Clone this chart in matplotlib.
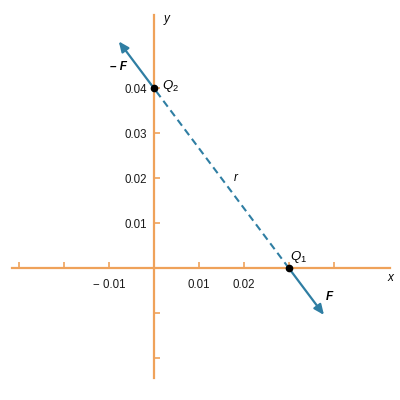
import matplotlib
matplotlib.use("Agg")
import matplotlib.pyplot as plt

plt.rcParams['font.family'] = ['Liberation Sans', 'DejaVu Sans']
plt.rcParams['mathtext.fontset'] = 'custom'
plt.rcParams['mathtext.rm'] = 'Liberation Sans'
plt.rcParams['mathtext.it'] = 'Liberation Sans:italic'
plt.rcParams['mathtext.bf'] = 'Liberation Sans:bold:italic'

# Data
q1 = (0.03, 0.0)
q2 = (0.0, 0.04)
force_scale = 0.26
x_ticks = [-0.03, -0.02, -0.01, 0.01, 0.02, 0.03, 0.04]
x_labels = ['', '', '\u2212 0.01', '0.01', '0.02', '', '']
y_ticks = [-0.02, -0.01, 0.01, 0.02, 0.03, 0.04]
y_labels = ['', '', '0.01', '0.02', '0.03', '0.04']

orange = '#EFA25A'
blue = '#2F7EA3'

fig = plt.figure(figsize=(4, 4), dpi=100)
ax = fig.add_axes([0, 0, 1, 1])
ax.set_xlim(-0.0342, 0.0547)
ax.set_ylim(-0.0293, 0.0596)

# axes as spines through the origin
for side in ['top', 'right']:
    ax.spines[side].set_visible(False)
ax.spines['left'].set_position(('data', 0))
ax.spines['bottom'].set_position(('data', 0))
ax.spines['left'].set_bounds(-0.0244, 0.0562)
ax.spines['bottom'].set_bounds(-0.0316, 0.0524)
for side in ['left', 'bottom']:
    ax.spines[side].set_color(orange)
    ax.spines[side].set_linewidth(1.6)

ax.set_xticks(x_ticks)
ax.set_xticklabels(x_labels)
ax.set_yticks(y_ticks)
ax.set_yticklabels(y_labels)
ax.tick_params(axis='both', direction='in', length=4, width=1.2, color=orange,
               labelsize=8.3, labelcolor='#1a1a1a')
ax.tick_params(axis='x', pad=8)
ax.tick_params(axis='y', pad=5)

# dashed line r between the charges
ax.plot([q1[0], q2[0]], [q1[1], q2[1]], color=blue, lw=1.5,
        dashes=(3.5, 2.2), zorder=3)

# force arrows
dx = q1[0] - q2[0]
dy = q1[1] - q2[1]
head = '-|>,head_length=0.5,head_width=0.22'
ax.annotate('', xy=(q1[0] + force_scale * dx, q1[1] + force_scale * dy), xytext=q1,
            arrowprops=dict(arrowstyle=head, color=blue, lw=1.6,
                            mutation_scale=12, shrinkA=0, shrinkB=0), zorder=4)
ax.annotate('', xy=(q2[0] - force_scale * dx, q2[1] - force_scale * dy), xytext=q2,
            arrowprops=dict(arrowstyle=head, color=blue, lw=1.6,
                            mutation_scale=12, shrinkA=0, shrinkB=0), zorder=4)

# charges
ax.plot([q1[0], q2[0]], [q1[1], q2[1]], 'o', color='black', ms=4.5, zorder=5)

# labels
ax.text(0.0021, 0.0553, 'y', fontsize=8.5, style='italic', ha='left', va='center')
ax.text(0.0520, -0.0022, 'x', fontsize=8.5, style='italic', ha='left', va='center')
ax.text(0.0018, 0.0405, r'$Q_\mathrm{2}$', fontsize=9.5, ha='left', va='center')
ax.text(0.0302, 0.0025, r'$Q_\mathrm{1}$', fontsize=9.5, ha='left', va='center')
ax.text(0.0178, 0.0200, 'r', fontsize=8.5, style='italic', ha='left', va='center')
ax.text(-0.0060, 0.0448, '\u2013 F', fontsize=8.5, weight='bold', style='italic',
        ha='right', va='center')
ax.text(0.0383, -0.0064, 'F', fontsize=8.5, weight='bold', style='italic',
        ha='left', va='center')

fig.savefig('out.png', dpi=100)
